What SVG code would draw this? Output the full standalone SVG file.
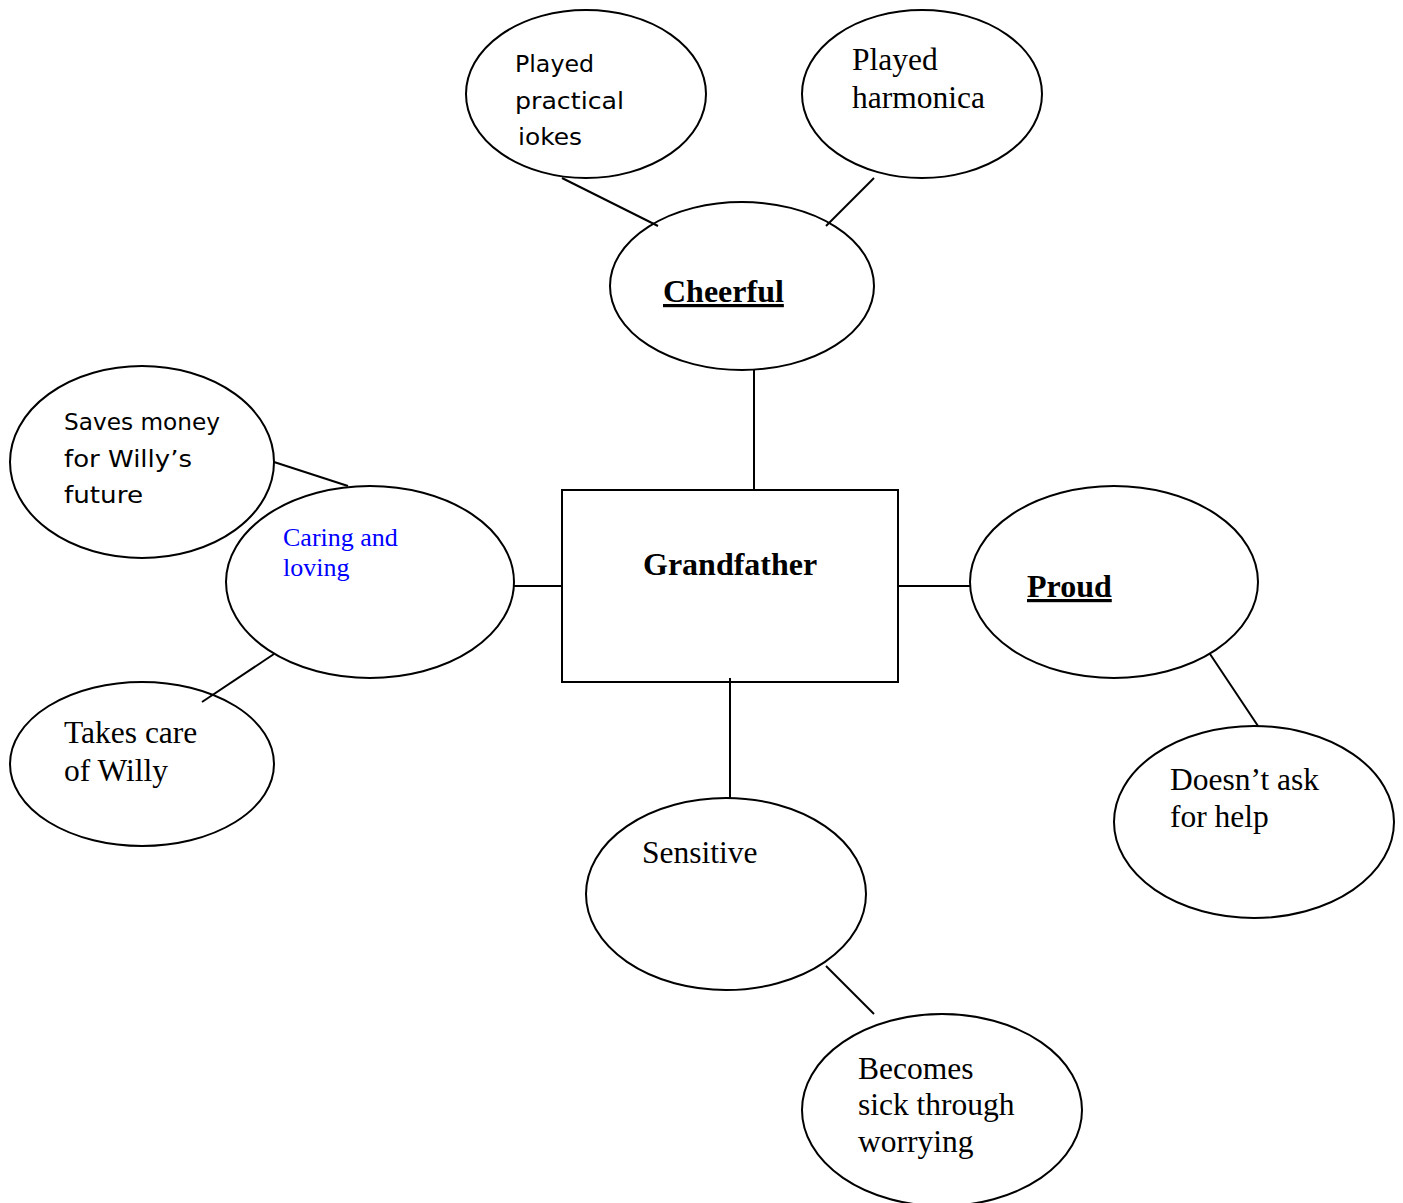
<svg xmlns="http://www.w3.org/2000/svg" width="1403" height="1203" viewBox="0 0 1403 1203">
<style>
.n{fill:#fff;stroke:#000;stroke-width:2}
.c line{stroke:#000;stroke-width:2}
.t{font-family:"Liberation Serif",serif;font-size:31.5px;fill:#000}
.b{font-weight:bold;font-size:32px}
.u{text-decoration:underline}
.k{font-family:"DejaVu Sans","Liberation Sans",sans-serif;font-size:23px;fill:#000}
.bl{font-family:"Liberation Serif",serif;font-size:26px;fill:#0000ff}
</style>
<rect width="1403" height="1203" fill="#fff"/>
<g id="jokes"><ellipse class="n" cx="586" cy="94" rx="120" ry="84"/>
<text class="k"><tspan x="515" y="72" textLength="79" lengthAdjust="spacingAndGlyphs">Played</tspan><tspan x="515" y="109" textLength="109" lengthAdjust="spacingAndGlyphs">practical</tspan><tspan x="518" y="145" textLength="64" lengthAdjust="spacingAndGlyphs">iokes</tspan></text></g>
<g id="harmonica"><ellipse class="n" cx="922" cy="94" rx="120" ry="84"/>
<text class="t"><tspan x="852" y="70">Played</tspan><tspan x="852" y="108">harmonica</tspan></text></g>
<g id="cheerful"><ellipse class="n" cx="742" cy="286" rx="132" ry="84"/>
<text class="t b u" x="663" y="302">Cheerful</text></g>
<g id="saves"><ellipse class="n" cx="142" cy="462" rx="132" ry="96"/>
<text class="k"><tspan x="64" y="430" textLength="156" lengthAdjust="spacingAndGlyphs">Saves money</tspan><tspan x="64" y="467" textLength="128" lengthAdjust="spacingAndGlyphs">for Willy’s</tspan><tspan x="64" y="503" textLength="79" lengthAdjust="spacingAndGlyphs">future</tspan></text></g>
<g id="caring"><ellipse class="n" cx="370" cy="582" rx="144" ry="96"/>
<text class="bl"><tspan x="283" y="546">Caring and</tspan><tspan x="283" y="576">loving</tspan></text></g>
<g id="takes"><ellipse class="n" cx="142" cy="764" rx="132" ry="82"/>
<text class="t"><tspan x="64" y="743">Takes care</tspan><tspan x="64" y="781">of Willy</tspan></text></g>
<g id="grandfather"><rect class="n" x="562" y="490" width="336" height="192"/>
<text class="t b" x="643" y="575">Grandfather</text></g>
<g id="proud"><ellipse class="n" cx="1114" cy="582" rx="144" ry="96"/>
<text class="t b u" x="1027" y="597">Proud</text></g>
<g id="doesnt"><ellipse class="n" cx="1254" cy="822" rx="140" ry="96"/>
<text class="t"><tspan x="1170" y="790">Doesn’t ask</tspan><tspan x="1170" y="827">for help</tspan></text></g>
<g id="sensitive"><ellipse class="n" cx="726" cy="894" rx="140" ry="96"/>
<text class="t" x="642" y="863">Sensitive</text></g>
<g id="becomes"><ellipse class="n" cx="942" cy="1110" rx="140" ry="96"/>
<text class="t"><tspan x="858" y="1079">Becomes</tspan><tspan x="858" y="1115">sick through</tspan><tspan x="858" y="1152">worrying</tspan></text></g>
<g class="c" id="connectors">
<line x1="562" y1="178" x2="658" y2="226"/>
<line x1="874" y1="178" x2="826" y2="226"/>
<line x1="754" y1="370" x2="754" y2="490"/>
<line x1="274" y1="462" x2="348" y2="486"/>
<line x1="514" y1="586" x2="562" y2="586"/>
<line x1="274" y1="654" x2="202" y2="702"/>
<line x1="898" y1="586" x2="970" y2="586"/>
<line x1="730" y1="678" x2="730" y2="798"/>
<line x1="1210" y1="654" x2="1258" y2="726"/>
<line x1="826" y1="966" x2="874" y2="1014"/>
</g>
</svg>
